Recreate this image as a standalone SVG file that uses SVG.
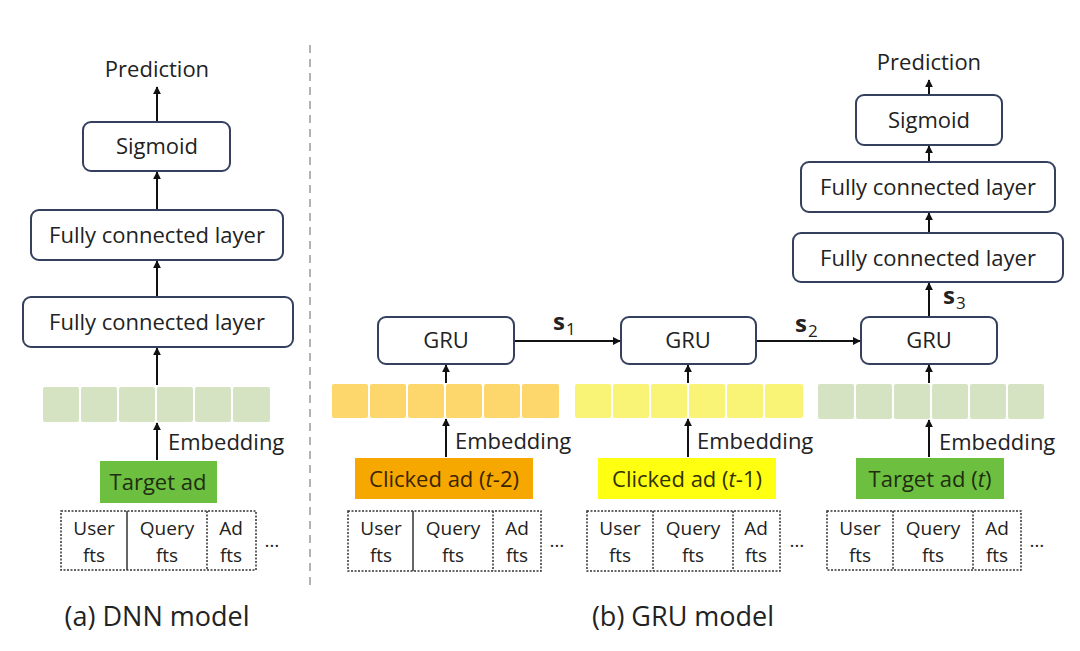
<svg xmlns="http://www.w3.org/2000/svg" width="1080" height="651" viewBox="0 0 1080 651">
<defs>
<marker id="ah" viewBox="0 0 10 10" refX="9" refY="5" markerWidth="4" markerHeight="4" orient="auto-start-reverse" markerUnits="strokeWidth">
<path d="M0,0 L10,5 L0,10 z" fill="#111"/>
</marker>
<style>
text{font-family:"Open Sans","Liberation Sans",sans-serif;fill:#222}
.box{fill:#fff;stroke:#34405e;stroke-width:2}
.t{font-size:22px;text-anchor:middle}
.lbl{font-size:22px}
.ft{font-size:19px;text-anchor:middle}
.cap{font-size:27px;text-anchor:middle}
.tab{fill:#fff;stroke:#333;stroke-width:1.5;stroke-dasharray:2,1.5}
.solid{stroke:#333;stroke-width:1.5}
.dot{stroke:#333;stroke-width:1.5;stroke-dasharray:2,1.5}
.arr{stroke:#111;stroke-width:2;fill:none;marker-end:url(#ah)}
.cg{fill:#d5e3c3}
.co{fill:#fdd66c}
.cy{fill:#faf476}
</style>
</defs>
<rect width="1080" height="651" fill="#fff"/>
<line x1="310" y1="45" x2="310" y2="590" stroke="#9a9a9a" stroke-width="1.5" stroke-dasharray="8,6"/>

<g id="connectors">
<line class="arr" x1="157" y1="122" x2="157" y2="87"/>
<line class="arr" x1="157" y1="210" x2="157" y2="172"/>
<line class="arr" x1="157" y1="297" x2="157" y2="261"/>
<line class="arr" x1="157" y1="385" x2="157" y2="348"/>
<line class="arr" x1="157" y1="460" x2="157" y2="423"/>
<line class="arr" x1="514" y1="341" x2="620" y2="341"/>
<line class="arr" x1="756" y1="341" x2="860" y2="341"/>
<line class="arr" x1="446" y1="383" x2="446" y2="365"/>
<line class="arr" x1="688" y1="383" x2="688" y2="365"/>
<line class="arr" x1="929" y1="383" x2="929" y2="365"/>
<line class="arr" x1="446" y1="457" x2="446" y2="419"/>
<line class="arr" x1="688" y1="457" x2="688" y2="419"/>
<line class="arr" x1="929" y1="457" x2="929" y2="420"/>
<line class="arr" x1="929" y1="317" x2="929" y2="283"/>
<line class="arr" x1="929" y1="233" x2="929" y2="213"/>
<line class="arr" x1="929" y1="162" x2="929" y2="146"/>
<line class="arr" x1="929" y1="95" x2="929" y2="80"/>
</g>
<g id="connector-labels">
<text x="553" y="330" font-size="24" font-weight="bold">s</text><text x="566" y="335" font-size="17">1</text>
<text x="795" y="332" font-size="24" font-weight="bold">s</text><text x="808" y="337" font-size="17">2</text>
<text x="943" y="304" font-size="24" font-weight="bold">s</text><text x="956" y="309" font-size="17">3</text>
<text class="lbl" x="168" y="450">Embedding</text>
<text class="lbl" x="455" y="449">Embedding</text>
<text class="lbl" x="697" y="449">Embedding</text>
<text class="lbl" x="939" y="450">Embedding</text>
</g>

<g id="dnn-prediction"><text class="t" x="157" y="77">Prediction</text></g>
<g id="dnn-sigmoid"><rect class="box" x="83" y="122" width="147" height="49" rx="8"/><text class="t" x="157" y="154">Sigmoid</text></g>
<g id="dnn-fc2"><rect class="box" x="31" y="210" width="252" height="50" rx="8"/><text class="t" x="157" y="243">Fully connected layer</text></g>
<g id="dnn-fc1"><rect class="box" x="23" y="297" width="270" height="50" rx="8"/><text class="t" x="157" y="330">Fully connected layer</text></g>
<g id="dnn-embedding">
<rect class="cg" x="43" y="387" width="36" height="35" rx="2"/><rect class="cg" x="81" y="387" width="36" height="35" rx="2"/><rect class="cg" x="119" y="387" width="36" height="35" rx="2"/><rect class="cg" x="157" y="387" width="36" height="35" rx="2"/><rect class="cg" x="195" y="387" width="36" height="35" rx="2"/><rect class="cg" x="233" y="387" width="37" height="35" rx="2"/>
</g>
<g id="dnn-target"><rect x="100" y="461" width="117" height="42" fill="#6cbf3f"/><text class="t" x="158" y="490" style="fill:#1f2e10">Target ad</text></g>
<g id="dnn-features">
<rect class="tab" x="61" y="511" width="195" height="59"/>
<line class="solid" x1="127" y1="511" x2="127" y2="570"/><line class="dot" x1="207" y1="511" x2="207" y2="570"/>
<text class="ft" x="94" y="535">User</text><text class="ft" x="94" y="562">fts</text>
<text class="ft" x="167" y="535">Query</text><text class="ft" x="167" y="562">fts</text>
<text class="ft" x="231" y="535">Ad</text><text class="ft" x="231" y="562">fts</text>
<text class="ft" x="272" y="547">…</text>
</g>
<g id="dnn-caption"><text class="cap" x="157" y="626">(a) DNN model</text></g>

<g id="gru1"><rect class="box" x="378" y="317" width="136" height="47" rx="8"/><text class="t" x="446" y="348">GRU</text></g>
<g id="gru2"><rect class="box" x="621" y="317" width="135" height="47" rx="8"/><text class="t" x="688" y="348">GRU</text></g>
<g id="gru3"><rect class="box" x="861" y="317" width="136" height="47" rx="8"/><text class="t" x="929" y="348">GRU</text></g>

<g id="emb-t2">
<rect class="co" x="332" y="384" width="36" height="34" rx="2"/><rect class="co" x="370" y="384" width="36" height="34" rx="2"/><rect class="co" x="408" y="384" width="36" height="34" rx="2"/><rect class="co" x="446" y="384" width="36" height="34" rx="2"/><rect class="co" x="484" y="384" width="36" height="34" rx="2"/><rect class="co" x="522" y="384" width="37" height="34" rx="2"/>
</g>
<g id="emb-t1">
<rect class="cy" x="575" y="384" width="36" height="34" rx="2"/><rect class="cy" x="613" y="384" width="36" height="34" rx="2"/><rect class="cy" x="651" y="384" width="36" height="34" rx="2"/><rect class="cy" x="689" y="384" width="36" height="34" rx="2"/><rect class="cy" x="727" y="384" width="36" height="34" rx="2"/><rect class="cy" x="765" y="384" width="38" height="34" rx="2"/>
</g>
<g id="emb-t">
<rect class="cg" x="818" y="384" width="36" height="35" rx="2"/><rect class="cg" x="856" y="384" width="36" height="35" rx="2"/><rect class="cg" x="894" y="384" width="36" height="35" rx="2"/><rect class="cg" x="932" y="384" width="36" height="35" rx="2"/><rect class="cg" x="970" y="384" width="36" height="35" rx="2"/><rect class="cg" x="1008" y="384" width="36" height="35" rx="2"/>
</g>

<g id="clicked-t2"><rect x="355" y="458" width="178" height="41" fill="#f7a800"/><text class="t" x="444" y="487" style="fill:#3a2500">Clicked ad (<tspan font-style="italic">t</tspan>-2)</text></g>
<g id="clicked-t1"><rect x="598" y="458" width="178" height="41" fill="#ffff12"/><text class="t" x="687" y="487" style="fill:#333300">Clicked ad (<tspan font-style="italic">t</tspan>-1)</text></g>
<g id="target-t"><rect x="856" y="458" width="148" height="41" fill="#6cbf3f"/><text class="t" x="930" y="487" style="fill:#1f2e10">Target ad (<tspan font-style="italic">t</tspan>)</text></g>

<g id="features-t2">
<rect class="tab" x="348" y="511" width="193" height="60"/>
<line class="solid" x1="413" y1="511" x2="413" y2="571"/><line class="dot" x1="493" y1="511" x2="493" y2="571"/>
<text class="ft" x="381" y="535">User</text><text class="ft" x="381" y="562">fts</text>
<text class="ft" x="453" y="535">Query</text><text class="ft" x="453" y="562">fts</text>
<text class="ft" x="517" y="535">Ad</text><text class="ft" x="517" y="562">fts</text>
<text class="ft" x="557" y="547">…</text>
</g>
<g id="features-t1">
<rect class="tab" x="587" y="511" width="193" height="60"/>
<line class="dot" x1="653" y1="511" x2="653" y2="571"/><line class="dot" x1="733" y1="511" x2="733" y2="571"/>
<text class="ft" x="620" y="535">User</text><text class="ft" x="620" y="562">fts</text>
<text class="ft" x="693" y="535">Query</text><text class="ft" x="693" y="562">fts</text>
<text class="ft" x="756" y="535">Ad</text><text class="ft" x="756" y="562">fts</text>
<text class="ft" x="797" y="547">…</text>
</g>
<g id="features-t">
<rect class="tab" x="827" y="511" width="194" height="59"/>
<line class="dot" x1="893" y1="511" x2="893" y2="570"/><line class="dot" x1="973" y1="511" x2="973" y2="570"/>
<text class="ft" x="860" y="535">User</text><text class="ft" x="860" y="562">fts</text>
<text class="ft" x="933" y="535">Query</text><text class="ft" x="933" y="562">fts</text>
<text class="ft" x="997" y="535">Ad</text><text class="ft" x="997" y="562">fts</text>
<text class="ft" x="1037" y="547">…</text>
</g>

<g id="gru-fc1"><rect class="box" x="793" y="233" width="270" height="49" rx="8"/><text class="t" x="928" y="266">Fully connected layer</text></g>
<g id="gru-fc2"><rect class="box" x="801" y="162" width="254" height="50" rx="8"/><text class="t" x="928" y="195">Fully connected layer</text></g>
<g id="gru-sigmoid"><rect class="box" x="856" y="95" width="146" height="50" rx="8"/><text class="t" x="929" y="128">Sigmoid</text></g>
<g id="gru-prediction"><text class="t" x="929" y="70">Prediction</text></g>
<g id="gru-caption"><text class="cap" x="683" y="626">(b) GRU model</text></g>
</svg>
